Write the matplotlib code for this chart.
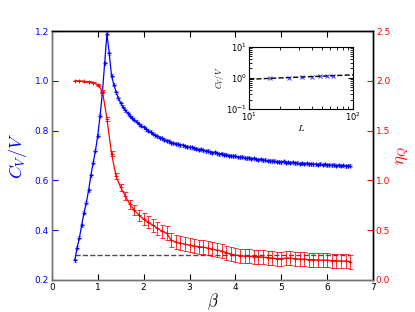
import numpy as np
import matplotlib
matplotlib.use("Agg")
import matplotlib.pyplot as plt
from matplotlib.ticker import NullFormatter

plt.rcParams['mathtext.fontset'] = 'cm'
plt.rcParams['font.family'] = 'DejaVu Sans'
plt.rcParams['xtick.direction'] = 'in'
plt.rcParams['ytick.direction'] = 'in'

# specific heat per volume, beta from 0.5 to 6.5 in steps of 0.05
beta_cv = np.round(np.arange(0.5, 6.5001, 0.05), 2)
cv = [0.28, 0.33, 0.37, 0.42, 0.47, 0.51, 0.56, 0.62, 0.67, 0.72,
      0.78, 0.86, 0.95, 1.07, 1.19, 1.11, 1.02, 0.985, 0.955, 0.93,
      0.91, 0.895, 0.882, 0.87, 0.86, 0.852, 0.843, 0.835, 0.826, 0.82,
      0.813, 0.806, 0.80, 0.795, 0.788, 0.782, 0.778, 0.772, 0.769, 0.764,
      0.760, 0.757, 0.752, 0.750, 0.747, 0.746, 0.742, 0.741, 0.737, 0.736,
      0.733, 0.733, 0.729, 0.728, 0.724, 0.725, 0.721, 0.718, 0.719, 0.714,
      0.712, 0.713, 0.709, 0.706, 0.708, 0.703, 0.704, 0.700, 0.699, 0.697,
      0.699, 0.694, 0.692, 0.695, 0.690, 0.688, 0.691, 0.686, 0.688, 0.684,
      0.683, 0.685, 0.680, 0.682, 0.678, 0.679, 0.676, 0.678, 0.674, 0.675,
      0.673, 0.676, 0.671, 0.672, 0.670, 0.673, 0.669, 0.670, 0.667, 0.669,
      0.666, 0.668, 0.665, 0.667, 0.664, 0.665, 0.663, 0.666, 0.662, 0.664,
      0.661, 0.663, 0.660, 0.662, 0.659, 0.661, 0.658, 0.660, 0.657, 0.659,
      0.658]
cv_err = 0.006

# eta_Q, beta from 0.5 to 6.5 in steps of 0.1
beta_eta = np.round(np.arange(0.5, 6.5001, 0.1), 2)
eta = [2.00, 2.00, 1.995, 1.99, 1.98, 1.96, 1.90, 1.62, 1.27, 1.04,
       0.93, 0.84, 0.76, 0.70, 0.65, 0.61, 0.58, 0.55, 0.52, 0.49,
       0.47, 0.40, 0.38, 0.37, 0.36, 0.35, 0.34, 0.335, 0.33, 0.32,
       0.31, 0.30, 0.29, 0.275, 0.26, 0.25, 0.245, 0.24, 0.24, 0.235,
       0.235, 0.23, 0.225, 0.22, 0.215, 0.215, 0.22, 0.22, 0.215, 0.21,
       0.21, 0.205, 0.205, 0.20, 0.20, 0.20, 0.195, 0.195, 0.19, 0.19,
       0.185]
eta_err = [0.003, 0.003, 0.004, 0.005, 0.006, 0.008, 0.01, 0.02, 0.025, 0.03,
           0.035, 0.04, 0.045, 0.05, 0.055, 0.06, 0.06, 0.065, 0.065, 0.065,
           0.07, 0.07, 0.07, 0.07, 0.07, 0.07, 0.07, 0.07, 0.07, 0.07,
           0.07, 0.07, 0.07, 0.07, 0.07, 0.07, 0.07, 0.07, 0.07, 0.07,
           0.07, 0.07, 0.07, 0.07, 0.07, 0.07, 0.07, 0.07, 0.07, 0.07,
           0.07, 0.07, 0.07, 0.07, 0.07, 0.07, 0.07, 0.07, 0.07, 0.07,
           0.07]

# reference level (dashed)
ref_beta = [0.5, 6.5]
ref_cv = [0.3, 0.3]

# inset: peak C_V/V vs L
L = [16, 24, 32, 40, 48, 56, 64]
cv_L = [0.98, 0.98, 1.08, 1.03, 1.12, 1.12, 1.17]
fit_L = [10, 100]
fit_cv = [0.9, 1.25]

fig = plt.figure(figsize=(4.15, 3.12), dpi=100)
ax1 = fig.add_axes([0.125, 0.1026, 0.774, 0.798])
ax2 = ax1.twinx()

ax1.errorbar(beta_cv, cv, yerr=cv_err, color='b', marker='+', ms=3, mew=0.8,
             lw=0.9, elinewidth=0.7, capsize=1.5, ecolor=(0.35, 0.35, 1.0, 0.5))
ax1.plot(ref_beta, ref_cv, 'k--', lw=1, alpha=0.7)
ax2.errorbar(beta_eta, eta, yerr=eta_err, color='r', marker='+', ms=2.5, mew=0.7,
             lw=0.9, elinewidth=0.7, capsize=1.8, ecolor=(1.0, 0.0, 0.0, 0.8))

ax1.set_xlim(0, 7)
ax1.set_ylim(0.2, 1.2)
ax2.set_ylim(0, 2.5)
ax1.set_xticks(range(8))
ax1.set_yticks([0.2, 0.4, 0.6, 0.8, 1.0, 1.2])
ax2.set_yticks([0.0, 0.5, 1.0, 1.5, 2.0, 2.5])
ax1.tick_params(axis='x', labelsize=6.5, top=True, length=4, pad=2)
ax1.tick_params(axis='y', labelsize=6.5, colors='b', length=4, pad=2)
ax2.tick_params(axis='y', labelsize=6.5, colors='r', length=4, pad=2)
for ax in (ax1, ax2):
    for s in ax.spines.values():
        s.set_linewidth(1)
    ax.spines['left'].set_color('0.45')
    ax.spines['bottom'].set_color('0.45')

ax1.set_xlabel(r'$\beta$', fontsize=12, labelpad=0)
ax1.set_ylabel(r'$C_V/V$', fontsize=13, color='b', labelpad=4)
ax2.set_ylabel(r'$\eta_Q$', fontsize=12, color='r', labelpad=2)

ins = fig.add_axes([0.600, 0.651, 0.251, 0.199])
ins.loglog(fit_L, fit_cv, 'k--', lw=1)
ins.plot(L, cv_L, 'x', color='b', ms=3.5, mew=0.8, alpha=0.7)
ins.set_xlim(10, 100)
ins.set_ylim(0.1, 10)
ins.xaxis.set_minor_formatter(NullFormatter())
ins.yaxis.set_minor_formatter(NullFormatter())
ins.tick_params(which='both', labelsize=6, pad=1.5, top=True, right=True)
ins.set_xlabel(r'$L$', fontsize=7, labelpad=0)
ins.set_ylabel(r'$C_V/V$', fontsize=6, labelpad=0)

fig.savefig('out.png', dpi=100)
